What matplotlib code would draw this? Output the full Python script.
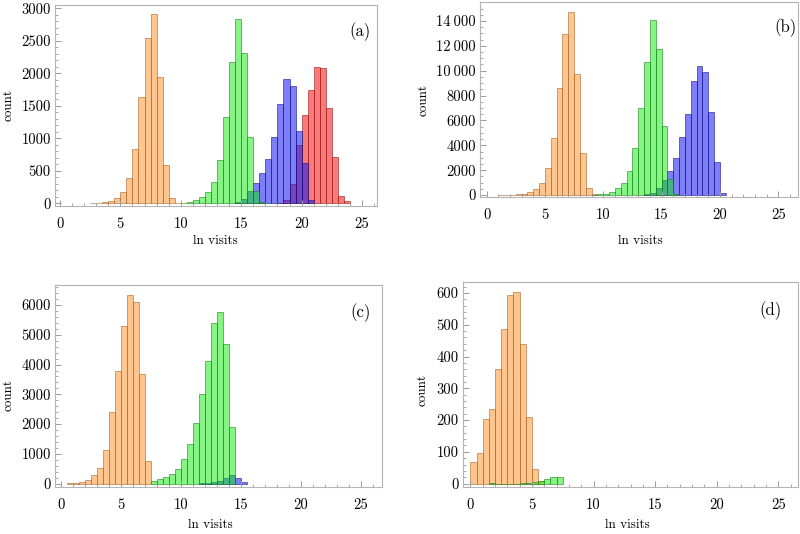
import numpy as np
import matplotlib
matplotlib.use("Agg")
import matplotlib.pyplot as plt
from matplotlib.ticker import MultipleLocator

plt.rcParams['font.family'] = ['cmr10', 'DejaVu Serif']
plt.rcParams['axes.unicode_minus'] = False

BIN = 0.5

# ---- panel (a) ----
orange_a_start = 2.5
orange_a = [5, 8, 15, 30, 77, 170, 385, 836, 1630, 2538, 2908, 1950, 590, 77, 10]
green_a_start = 10.0
green_a = [10, 25, 50, 92, 180, 333, 667, 1323, 2180, 2836, 2318, 1026, 190, 20]
blue_a_start = 14.5
blue_a = [20, 66, 190, 310, 472, 677, 1026, 1523, 1913, 1805, 1113, 615, 50]
red_a_start = 18.0
red_a = [10, 50, 290, 900, 1360, 1744, 2100, 2077, 1460, 708, 113, 40]

# ---- panel (b) ----
orange_b_start = 1.0
orange_b = [20, 20, 40, 60, 100, 214, 455, 990, 2140, 4550, 8645, 12930, 14720, 9715, 3345, 535, 50]
green_b_start = 9.0
green_b = [30, 60, 100, 270, 590, 990, 1930, 3750, 7010, 10680, 14100, 11780, 5570, 1260, 50]
blue_b_start = 13.5
blue_b = [80, 200, 600, 1200, 1930, 3000, 4680, 6480, 9150, 10360, 9900, 6690, 2680, 190]

# ---- panel (c) ----
orange_c_start = 0.5
orange_c = [15, 30, 60, 112, 280, 540, 1145, 2390, 3780, 5290, 6330, 6090, 3690, 774]
green_c_start = 7.5
green_c = [90, 145, 225, 336, 505, 818, 1323, 2050, 3005, 4125, 5400, 5770, 4685, 1905]
blue_c_start = 11.5
blue_c = [10, 20, 40, 100, 200, 280, 200, 45]

# ---- panel (d) ----
orange_d_start = 0.0
orange_d = [68, 97, 204, 236, 361, 487, 594, 604, 440, 210, 46, 8]
green_d_start = 1.5
green_d = [2, 0, 0, 0, 0, 2, 2, 5, 7, 13, 21, 22]

x_ticks = [0, 5, 10, 15, 20, 25]
yticks_a = [0, 500, 1000, 1500, 2000, 2500, 3000]
yticks_b = [0, 2000, 4000, 6000, 8000, 10000, 12000, 14000]
ylabels_b = ["0", "2000", "4000", "6000", "8000", "10\u2009000", "12\u2009000", "14\u2009000"]
yticks_c = [0, 1000, 2000, 3000, 4000, 5000, 6000]
yticks_d = [0, 100, 200, 300, 400, 500, 600]
panel_labels = ["(a)", "(b)", "(c)", "(d)"]

STY = {
    'orange': dict(face=(1.0, 0.60, 0.22, 0.56), edge=(0.62, 0.36, 0.12, 0.55)),
    'red':    dict(face=(0.95, 0.08, 0.08, 0.56), edge=(0.60, 0.05, 0.05, 0.55)),
    'blue':   dict(face=(0.08, 0.08, 0.95, 0.55), edge=(0.05, 0.05, 0.50, 0.55)),
    'green':  dict(face=(0.05, 0.92, 0.05, 0.50), edge=(0.05, 0.50, 0.05, 0.55)),
}

W, H = 800, 534
fig = plt.figure(figsize=(8.0, 5.34), dpi=100)

def add_axes(l, r, t, b):
    return fig.add_axes([l / W, 1 - b / H, (r - l) / W, (b - t) / H])

def hist(ax, start, counts, key):
    counts = np.asarray(counts, dtype=float)
    edges = start + BIN * np.arange(len(counts))
    s = STY[key]
    ax.bar(edges, counts, width=BIN, align='edge', color=s['face'],
           edgecolor=s['edge'], linewidth=0.7)

def style(ax, xlim, ylim, yticks, ylabels, yminor, label, lx, ly):
    ax.set_xlim(*xlim)
    ax.set_ylim(*ylim)
    ax.set_xticks(x_ticks)
    ax.set_xticklabels([str(v) for v in x_ticks])
    ax.xaxis.set_minor_locator(MultipleLocator(1))
    ax.set_yticks(yticks)
    ax.set_yticklabels(ylabels)
    ax.yaxis.set_minor_locator(MultipleLocator(yminor))
    for sp in ax.spines.values():
        sp.set_color('#b4b4b4')
        sp.set_linewidth(0.8)
    ax.tick_params(which='both', direction='in', color='#9a9a9a', top=False, right=False)
    ax.tick_params(which='major', length=4.5, width=0.7, labelsize=10.5, pad=3)
    ax.tick_params(which='minor', length=2.5, width=0.6)
    ax.tick_params(axis='x', which='major', pad=8)
    ax.text(lx, ly, label, transform=ax.transAxes, ha='center', va='center', fontsize=12)

# (a)
ax = add_axes(55, 377, 5, 206)
hist(ax, orange_a_start, orange_a, 'orange')
hist(ax, red_a_start, red_a, 'red')
hist(ax, blue_a_start, blue_a, 'blue')
hist(ax, green_a_start, green_a, 'green')
style(ax, (-0.41, 26.24), (-41, 3051), yticks_a, [str(v) for v in yticks_a], 100,
      panel_labels[0], 0.947, 0.866)

# (b)
ax = add_axes(480, 798, 2, 197)
hist(ax, orange_b_start, orange_b, 'orange')
hist(ax, blue_b_start, blue_b, 'blue')
hist(ax, green_b_start, green_b, 'green')
style(ax, (-0.57, 26.7), (-160, 15526), yticks_b, ylabels_b, 500,
      panel_labels[1], 0.96, 0.87)

# (c)
ax = add_axes(55, 382, 285, 487)
hist(ax, orange_c_start, orange_c, 'orange')
hist(ax, blue_c_start, blue_c, 'blue')
hist(ax, green_c_start, green_c, 'green')
style(ax, (-0.47, 26.75), (-114, 6673), yticks_c, [str(v) for v in yticks_c], 200,
      panel_labels[2], 0.934, 0.861)

# (d)
ax = add_axes(463, 798, 282, 487)
hist(ax, orange_d_start, orange_d, 'orange')
hist(ax, green_d_start, green_d, 'green')
style(ax, (-0.6, 26.6), (-10.7, 634.6), yticks_d, [str(v) for v in yticks_d], 20,
      panel_labels[3], 0.919, 0.862)

# axis titles
for (x, y) in [(215, 241), (640, 241), (210, 525), (627, 525)]:
    fig.text(x / W, 1 - y / H, "ln visits", ha='center', va='center', fontsize=9.5)
for (x, y) in [(9, 105), (424, 100), (9, 395), (423, 390)]:
    fig.text(x / W, 1 - y / H, "count", ha='center', va='center', fontsize=9.5, rotation=90)

fig.savefig("out.png", dpi=100)
